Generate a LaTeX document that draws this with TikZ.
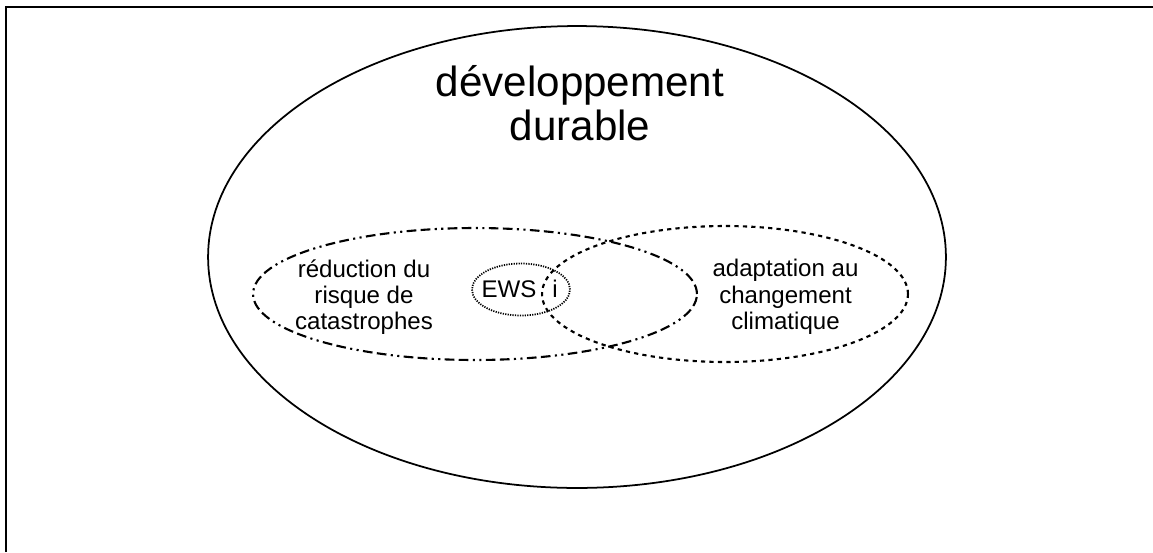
\documentclass[tikz,border=0pt]{standalone}
\usepackage{fontspec}
\setmainfont{Liberation Sans}
\usetikzlibrary{positioning}

\tikzset{
  label/.style={align=center, inner sep=0pt, font=\fontsize{13.7}{15}\selectfont},
  drr/.style={line width=1.2pt, dash pattern=on 5.5pt off 2.5pt on 5.5pt off 2.5pt on 1.2pt off 2.5pt on 1.2pt off 2.5pt},
  acc/.style={line width=1.2pt, dash pattern=on 2.4pt off 2.4pt},
  ews/.style={line width=1pt, dash pattern=on 0.7pt off 0.7pt}
}

\begin{document}
\begin{tikzpicture}[x=0.02cm, y=-0.02cm]
% page size and frame
\useasboundingbox (0,0) rectangle (1153,552);
\draw[line width=1.2pt] (6,552) -- (6,7) -- (1153,7);

% big ellipse
\draw[line width=1pt] (577,257) ellipse [x radius=7.38cm, y radius=4.62cm];
\node[align=center, inner sep=0pt, font=\fontsize{24}{25}\selectfont] (dd) at (580,103) {développement\\durable};

% the two overlapping ellipses
\draw[drr] (475,294) ellipse [x radius=4.44cm, y radius=1.32cm];
\draw[acc] (725,294) ellipse [x radius=3.66cm, y radius=1.36cm];

% small one
\draw[ews] (521,289.5) ellipse [x radius=0.98cm, y radius=0.52cm];

% texts
\node[label] (rrc) at (364,297) {réduction du\\risque de\\catastrophes};
\node[label] (acc) at (785.5,297) {adaptation au\\changement\\climatique};
\node[label, anchor=base] (ews) at (509,297) {EWS};
\node[label, anchor=base] (i) at (555,297) {i};
\end{tikzpicture}
\end{document}
